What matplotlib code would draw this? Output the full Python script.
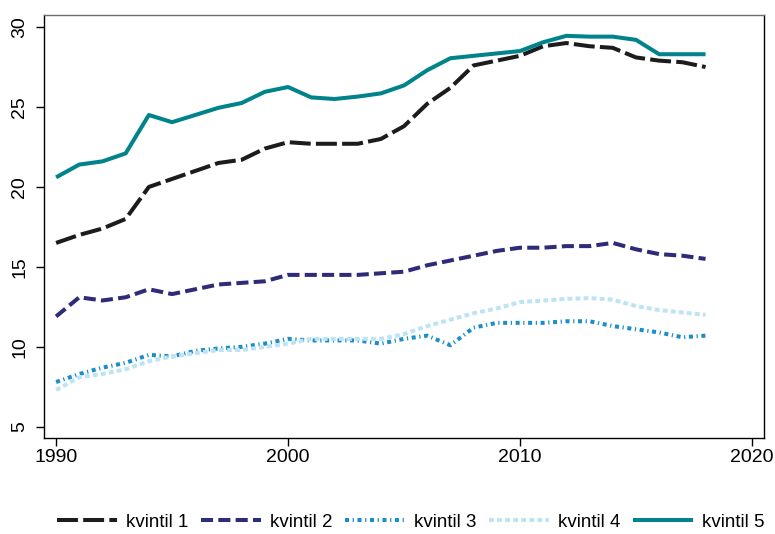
import matplotlib.pyplot as plt

plt.rcParams['font.family'] = ['Liberation Sans', 'DejaVu Sans']

years = list(range(1990, 2019))

kvintil_1 = [16.5, 17.0, 17.4, 18.0, 20.0, 20.5, 21.0, 21.5, 21.7, 22.4, 22.8,
             22.7, 22.7, 22.7, 23.0, 23.8, 25.2, 26.2, 27.6, 27.9, 28.2,
             28.8, 29.0, 28.8, 28.7, 28.1, 27.9, 27.8, 27.5]
kvintil_2 = [11.9, 13.1, 12.9, 13.1, 13.6, 13.3, 13.6, 13.9, 14.0, 14.1, 14.5,
             14.5, 14.5, 14.5, 14.6, 14.7, 15.1, 15.4, 15.7, 16.0, 16.2,
             16.2, 16.3, 16.3, 16.5, 16.1, 15.8, 15.7, 15.5]
kvintil_3 = [7.8, 8.3, 8.7, 9.0, 9.5, 9.4, 9.75, 9.9, 10.0, 10.2, 10.5,
             10.4, 10.4, 10.4, 10.2, 10.5, 10.7, 10.1, 11.2, 11.5, 11.5,
             11.5, 11.6, 11.6, 11.3, 11.1, 10.9, 10.6, 10.7]
kvintil_4 = [7.3, 8.1, 8.3, 8.6, 9.1, 9.4, 9.6, 9.8, 9.8, 10.0, 10.2,
             10.5, 10.5, 10.5, 10.5, 10.8, 11.3, 11.7, 12.1, 12.4, 12.8,
             12.9, 13.0, 13.05, 12.95, 12.55, 12.3, 12.15, 12.0]
kvintil_5 = [20.6, 21.4, 21.6, 22.1, 24.5, 24.05, 24.5, 24.95, 25.25, 25.95, 26.25,
             25.6, 25.5, 25.65, 25.85, 26.35, 27.3, 28.05, 28.2, 28.35, 28.5,
             29.05, 29.45, 29.4, 29.4, 29.2, 28.3, 28.3, 28.3]

series = [
    ("kvintil 1", kvintil_1, "#1c1c1c", (0, (5.2, 1.3))),
    ("kvintil 2", kvintil_2, "#2e2b78", (0, (3.0, 1.3))),
    ("kvintil 3", kvintil_3, "#1b8ec8", (0, (1.0, 0.9, 0.3, 0.9))),
    ("kvintil 4", kvintil_4, "#bde3f6", (0, (1.2, 0.8))),
    ("kvintil 5", kvintil_5, "#00838b", "-"),
]

fig = plt.figure(figsize=(7.75, 5.34), dpi=100)
ax = fig.add_axes([0.0568, 0.1798, 0.929, 0.792])

for label, vals, color, ls in series:
    ax.plot(years, vals, color=color, linestyle=ls, linewidth=2.9, label=label,
            solid_capstyle='butt', dash_capstyle='butt')

ax.set_xlim(1989.48, 2020.52)
ax.set_ylim(4.3, 30.75)
ax.set_xticks([1990, 2000, 2010, 2020])
ax.set_yticks([5, 10, 15, 20, 25, 30])
ax.tick_params(direction='out', length=5.5, width=1, labelsize=14, colors='black')
ax.tick_params(axis='x', pad=2.5)
ax.tick_params(axis='y', pad=6)
for t in ax.get_yticklabels():
    t.set_rotation(90)
    t.set_va('center')
for s in ax.spines.values():
    s.set_linewidth(1)
    s.set_color('black')
ax.spines['top'].set_color('#6e6e6e')

fig.legend(loc='center', bbox_to_anchor=(0.53, 0.0225), ncol=5, frameon=False,
           fontsize=13.5, handlelength=3.2, handletextpad=0.45, columnspacing=0.7)

fig.savefig("out.png", dpi=100)
